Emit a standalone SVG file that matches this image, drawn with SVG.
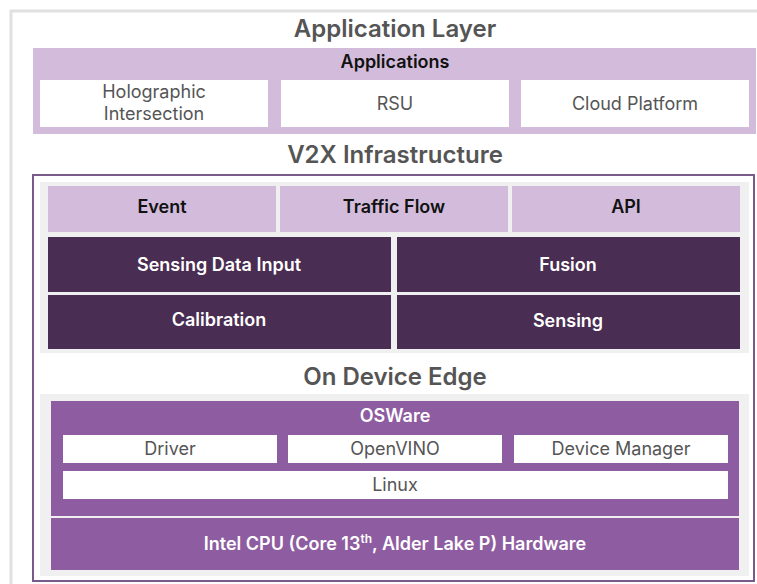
<svg xmlns="http://www.w3.org/2000/svg" width="757" height="584" viewBox="0 0 757 584">
<style>
.title{font-family:Inter,"Open Sans",sans-serif;font-size:24px;font-weight:600;fill:#555;text-anchor:middle}
.hd{font-family:Inter,"Open Sans",sans-serif;font-size:18px;font-weight:600;fill:#111;text-anchor:middle}
.wl{font-family:Inter,"Open Sans",sans-serif;font-size:18px;font-weight:600;fill:#fff;text-anchor:middle}
.lt{font-family:Inter,"Open Sans",sans-serif;font-size:18px;font-weight:400;fill:#555;text-anchor:middle}
.lp{fill:#d3bcdb}
.dk{fill:#4a2d52}
.md{fill:#8e5ca0}
.wh{fill:#fff}
.gp{fill:#f0f0f0}
</style>
<rect x="0" y="0" width="757" height="584" fill="#fff"/>
<rect x="11" y="11" width="760" height="590" fill="none" stroke="#e0e0e0" stroke-width="3"/>
<g id="application-layer">
<text class="title" x="395" y="37">Application Layer</text>
<rect class="lp" x="33" y="48" width="723" height="86"/>
<text class="hd" x="395" y="68">Applications</text>
<g id="holographic"><rect class="wh" x="40" y="80" width="228" height="47"/><text class="lt" x="154" y="98">Holographic</text><text class="lt" x="154" y="120">Intersection</text></g>
<g id="rsu"><rect class="wh" x="281" y="80" width="228" height="47"/><text class="lt" x="395" y="110">RSU</text></g>
<g id="cloud"><rect class="wh" x="521" y="80" width="228" height="47"/><text class="lt" x="635" y="110">Cloud Platform</text></g>
</g>
<text class="title" x="395" y="163">V2X Infrastructure</text>
<rect x="33" y="175" width="721" height="406" fill="none" stroke="#7a5a8a" stroke-width="2"/>
<g id="v2x">
<rect class="gp" x="40" y="182" width="709" height="171"/>
<g id="event"><rect class="lp" x="48" y="186" width="228" height="46"/><text class="hd" x="162" y="213">Event</text></g>
<g id="traffic"><rect class="lp" x="280" y="186" width="228" height="46"/><text class="hd" x="394" y="213">Traffic Flow</text></g>
<g id="api"><rect class="lp" x="512" y="186" width="228" height="46"/><text class="hd" x="626" y="213">API</text></g>
<g id="sensing-data-input"><rect class="dk" x="48" y="237" width="343" height="55"/><text class="wl" x="219" y="271">Sensing Data Input</text></g>
<g id="fusion"><rect class="dk" x="397" y="237" width="343" height="55"/><text class="wl" x="568" y="271">Fusion</text></g>
<g id="calibration"><rect class="dk" x="48" y="295" width="343" height="54"/><text class="wl" x="219" y="326">Calibration</text></g>
<g id="sensing"><rect class="dk" x="397" y="295" width="343" height="54"/><text class="wl" x="568" y="327">Sensing</text></g>
</g>
<text class="title" x="395" y="385">On Device Edge</text>
<g id="on-device-edge">
<rect class="gp" x="40" y="394" width="709" height="182"/>
<g id="osware"><rect class="md" x="51" y="401" width="688" height="115"/><text class="wl" x="395" y="422">OSWare</text></g>
<g id="driver"><rect class="wh" x="63" y="435" width="214" height="28"/><text class="lt" x="170" y="455">Driver</text></g>
<g id="openvino"><rect class="wh" x="288" y="435" width="214" height="28"/><text class="lt" x="395" y="455">OpenVINO</text></g>
<g id="device-manager"><rect class="wh" x="514" y="435" width="214" height="28"/><text class="lt" x="621" y="455">Device Manager</text></g>
<g id="linux"><rect class="wh" x="63" y="471" width="665" height="28"/><text class="lt" x="395" y="491">Linux</text></g>
<g id="hardware"><rect class="md" x="51" y="518" width="688" height="52"/><text class="wl" x="395" y="550">Intel CPU (Core 13<tspan font-size="12" dy="-7">th</tspan><tspan dy="7">, Alder Lake P) Hardware</tspan></text></g>
</g>
</svg>
